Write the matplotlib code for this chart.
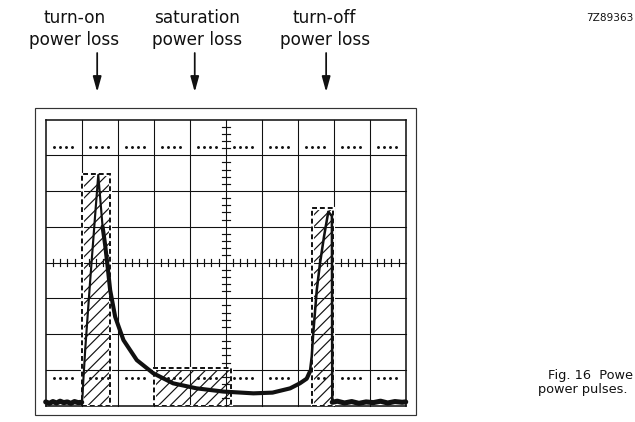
import numpy as np
import matplotlib
matplotlib.use("Agg")
import matplotlib.pyplot as plt
from matplotlib.patches import Rectangle

# ---- screen divisions -------------------------------------------------------
n_cols, n_rows = 10, 8
dot_rows = [0.76, 7.24]                      # dotted reference lines

# ---- trace (divisions) ------------------------------------------------------
base_left_x = [0.0, 0.1, 0.2, 0.3, 0.4, 0.5, 0.6, 0.7, 0.8, 0.9, 1.0]
base_left_y = [0.10, 0.06, 0.11, 0.07, 0.12, 0.08, 0.10, 0.06, 0.11, 0.08, 0.09]

rise_on_x = [1.00, 1.02, 1.04, 1.10, 1.23, 1.37, 1.46, 1.58]
rise_on_y = [0.09, 0.20, 0.62, 1.60, 3.42, 5.28, 6.45, 5.00]

decay_x = [1.58, 1.65, 1.71, 1.79, 1.93, 2.16, 2.53, 2.99, 3.54, 4.19, 4.93,
           5.77, 6.30, 6.79, 7.06, 7.25, 7.34]
decay_y = [5.00, 4.50, 3.98, 3.23, 2.48, 1.83, 1.27, 0.90, 0.62, 0.48, 0.39,
           0.34, 0.36, 0.48, 0.62, 0.75, 0.95]

rise_off_x = [7.34, 7.39, 7.43, 7.53, 7.62, 7.73, 7.85, 7.95, 7.96]
rise_off_y = [0.95, 1.37, 2.00, 3.23, 3.98, 4.72, 5.42, 5.30, 0.09]

base_right_x = [7.96, 8.1, 8.3, 8.5, 8.7, 8.9, 9.1, 9.3, 9.5, 9.7, 9.9, 10.0]
base_right_y = [0.09, 0.12, 0.07, 0.11, 0.06, 0.10, 0.08, 0.12, 0.07, 0.11, 0.09, 0.10]

# ---- loss areas: (left, right, height) -------------------------------------
loss_names = ["turn-on", "saturation", "turn-off"]
loss_left = [1.00, 3.00, 7.39]
loss_right = [1.79, 5.15, 7.99]
loss_height = [6.47, 1.04, 5.52]
label_x = [0.80, 4.21, 7.75]
arrow_x = [1.43, 4.14, 7.79]

W, H, DPI = 635, 422, 141
plt.rcParams["hatch.linewidth"] = 0.6
plt.rcParams["font.family"] = ["DejaVu Sans"]

fig = plt.figure(figsize=(W / DPI, H / DPI), dpi=DPI)
fig.patch.set_facecolor("white")
ax = fig.add_axes([45.7 / W, (H - 405.5) / H, 360 / W, 286 / H])
ax.set_xlim(0, n_cols)
ax.set_ylim(0, n_rows)
ax.axis("off")

ink = "#111111"
px_per_row = 35.75


def row_from_px(py):
    """Vertical pixel position (from image top) to screen divisions."""
    return (405.5 - py) / px_per_row


# outer bezel
ax.add_patch(Rectangle((-0.30, -0.27), n_cols + 0.59, n_rows + 0.58,
                       fill=False, lw=0.6, edgecolor="#333333", clip_on=False))

# graticule
for i in range(n_cols + 1):
    ax.plot([i, i], [0, n_rows], color=ink, lw=0.55 if 0 < i < n_cols else 0.8,
            clip_on=False, zorder=1)
for j in range(n_rows + 1):
    ax.plot([0, n_cols], [j, j], color=ink, lw=0.55 if 0 < j < n_rows else 0.8,
            clip_on=False, zorder=1)

# minor ticks on the centre axes
cx, cy = n_cols / 2, n_rows / 2
minor_y = [v for v in np.arange(0.2, n_rows, 0.2) if abs(v - round(v)) > 0.05]
minor_x = [v for v in np.arange(0.2, n_cols, 0.2) if abs(v - round(v)) > 0.05]
for v in minor_y:
    ax.plot([cx - 0.11, cx + 0.11], [v, v], color=ink, lw=0.6, zorder=1)
for v in minor_x:
    ax.plot([v, v], [cy - 0.11, cy + 0.11], color=ink, lw=0.6, zorder=1)

# dotted reference rows
dot_offsets = [0.22, 0.39, 0.56, 0.73]
dots_x = [c + o for c in range(n_cols) for o in dot_offsets]
for yr in dot_rows:
    ax.plot(dots_x, [yr] * len(dots_x), linestyle="none", marker="o",
            markersize=1.5, markeredgewidth=0, color=ink, zorder=2)

# hatched loss areas with dashed outlines
for l, r, h in zip(loss_left, loss_right, loss_height):
    ax.add_patch(Rectangle((l, 0), r - l, h, facecolor="none", hatch="////",
                           edgecolor=ink, lw=0, zorder=2))
    ax.add_patch(Rectangle((l, 0), r - l, h, fill=False, edgecolor="white",
                           lw=1.6, zorder=3))
    ax.add_patch(Rectangle((l, 0), r - l, h, fill=False, edgecolor=ink,
                           lw=1.0, linestyle=(0, (2.5, 1.5)), zorder=3))

# power trace
ax.plot(base_left_x, base_left_y, color=ink, lw=2.6, solid_capstyle="round",
        solid_joinstyle="round", zorder=5, clip_on=False)
ax.plot(base_right_x, base_right_y, color=ink, lw=2.6, solid_capstyle="round",
        solid_joinstyle="round", zorder=5, clip_on=False)
ax.plot(rise_on_x, rise_on_y, color=ink, lw=1.1, solid_joinstyle="round", zorder=5)
ax.plot(decay_x, decay_y, color=ink, lw=2.1, solid_capstyle="round",
        solid_joinstyle="round", zorder=5)
ax.plot(rise_off_x, rise_off_y, color=ink, lw=1.3, solid_joinstyle="round", zorder=5)

# labels and arrows above the screen
for name, lx, axx in zip(loss_names, label_x, arrow_x):
    ax.text(lx, row_from_px(22.7), name, ha="center", va="baseline",
            fontsize=8.6, color=ink, clip_on=False)
    ax.text(lx, row_from_px(45.0), "power loss", ha="center",
            va="baseline", fontsize=8.6, color=ink, clip_on=False)
    ax.annotate("", xy=(axx, row_from_px(92)), xytext=(axx, row_from_px(53)),
                arrowprops=dict(arrowstyle="-|>,head_length=0.65,head_width=0.18",
                                lw=0.9, color=ink, shrinkA=0, shrinkB=0,
                                mutation_scale=10),
                annotation_clip=False)

fig.text(634 / W, 1 - 20.7 / H, "7Z89363", ha="right", va="baseline",
         fontsize=5.4, color=ink)
fig.text(548 / W, 1 - 379.3 / H, "Fig. 16  Powe", ha="left", va="baseline",
         fontsize=6.6, color=ink)
fig.text(538 / W, 1 - 393.3 / H, "power pulses.", ha="left", va="baseline",
         fontsize=6.6, color=ink)

fig.savefig("out.png", dpi=DPI, facecolor="white")
